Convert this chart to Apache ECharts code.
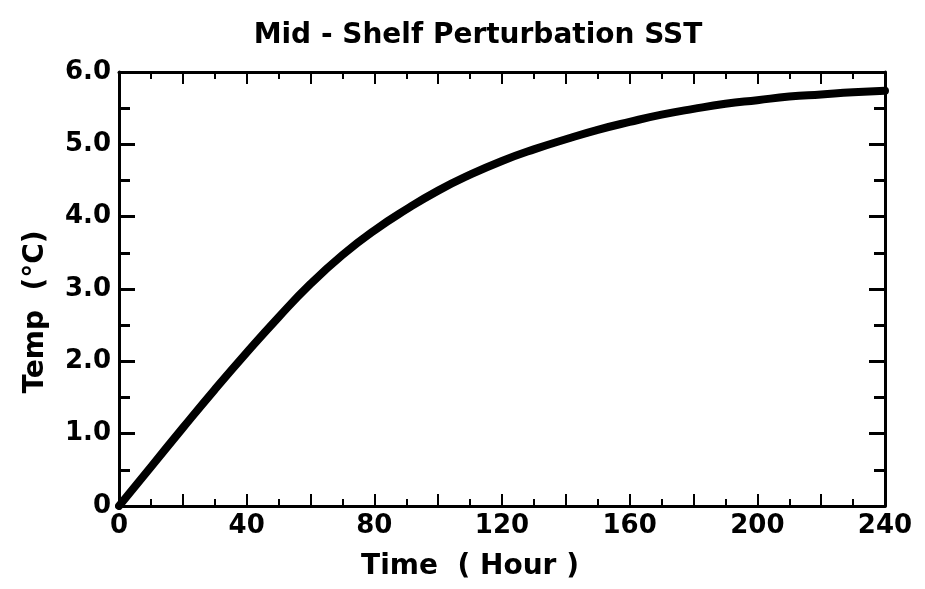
<!DOCTYPE html>
<html>
<head>
<meta charset="utf-8">
<script src="https://cdn.jsdelivr.net/npm/echarts@6/dist/echarts.min.js"></script>
<style>html,body{margin:0;padding:0;background:#fff}#c{width:925px;height:589px}</style>
</head>
<body>
<div id="c"></div>
<script>
// Data
const timeHours = [0,10,20,30,40,50,60,70,80,90,100,110,120,130,140,150,160,170,180,190,200,210,220,230,240];
const tempC     = [0,0.54,1.08,1.61,2.12,2.61,3.07,3.47,3.81,4.1,4.36,4.58,4.77,4.93,5.07,5.2,5.31,5.41,5.49,5.56,5.61,5.66,5.69,5.72,5.74];
const xTickLabels = ['0','40','80','120','160','200','240'];
const yTickLabels = ['0','1.0','2.0','3.0','4.0','5.0','6.0'];
const titleText = 'Mid - Shelf Perturbation SST';
const xName = 'Time  ( Hour )';
const yName = 'Temp  (°C)';

const FONT = 'DejaVu Sans';
const chart = echarts.init(document.getElementById('c'), null, {renderer:'canvas'});
const axisCommon = {
  type:'value',
  axisLine:{show:true,onZero:false,lineStyle:{color:'#000',width:3}},
  splitLine:{show:false},
};
chart.setOption({
  animation:false,
  backgroundColor:'#fff',
  grid:{left:119,right:40,top:72,bottom:83,containLabel:false},
  graphic:[
    {type:'text',x:478,y:36,style:{text:titleText,font:'bold 28px "'+FONT+'"',fill:'#000',align:'center',verticalAlign:'middle'}},
    {type:'text',x:470,y:567,style:{text:xName,font:'bold 28px "'+FONT+'"',fill:'#000',align:'center',verticalAlign:'middle'}},
    {type:'text',x:36,y:312,rotation:Math.PI/2,style:{text:yName,font:'bold 28px "'+FONT+'"',fill:'#000',align:'center',verticalAlign:'middle'}}
  ],
  xAxis:[
    Object.assign({},axisCommon,{min:0,max:240,interval:20,position:'bottom',
      axisTick:{show:true,inside:true,length:12,lineStyle:{color:'#000',width:2}},
      minorTick:{show:true,splitNumber:2,length:7,lineStyle:{color:'#000',width:2}},
      axisLabel:{show:true,margin:7,color:'#000',fontFamily:FONT,fontWeight:'bold',fontSize:26,
        formatter:function(v){const s=String(v);return xTickLabels.indexOf(s)>=0?s:'';}}}),
    Object.assign({},axisCommon,{min:0,max:240,interval:20,position:'top',
      axisTick:{show:true,inside:true,length:12,lineStyle:{color:'#000',width:2}},
      minorTick:{show:true,splitNumber:2,length:7,lineStyle:{color:'#000',width:2}},
      axisLabel:{show:false}})
  ],
  yAxis:[
    Object.assign({},axisCommon,{min:0,max:6,interval:1,position:'left',
      axisTick:{show:true,inside:true,length:16,lineStyle:{color:'#000',width:3}},
      minorTick:{show:true,splitNumber:2,length:11,lineStyle:{color:'#000',width:3}},
      axisLabel:{show:true,margin:8,color:'#000',fontFamily:FONT,fontWeight:'bold',fontSize:26,
        formatter:function(v){return yTickLabels[Math.round(v)];}}}),
    Object.assign({},axisCommon,{min:0,max:6,interval:1,position:'right',
      axisTick:{show:true,inside:true,length:16,lineStyle:{color:'#000',width:3}},
      minorTick:{show:true,splitNumber:2,length:11,lineStyle:{color:'#000',width:3}},
      axisLabel:{show:false}})
  ],
  series:[{
    type:'line',xAxisIndex:0,yAxisIndex:0,
    data:timeHours.map((t,i)=>[t,tempC[i]]),
    smooth:true,showSymbol:false,symbol:'none',
    lineStyle:{color:'#000',width:8,cap:'round',join:'round'}
  }]
});
</script>
</body>
</html>
